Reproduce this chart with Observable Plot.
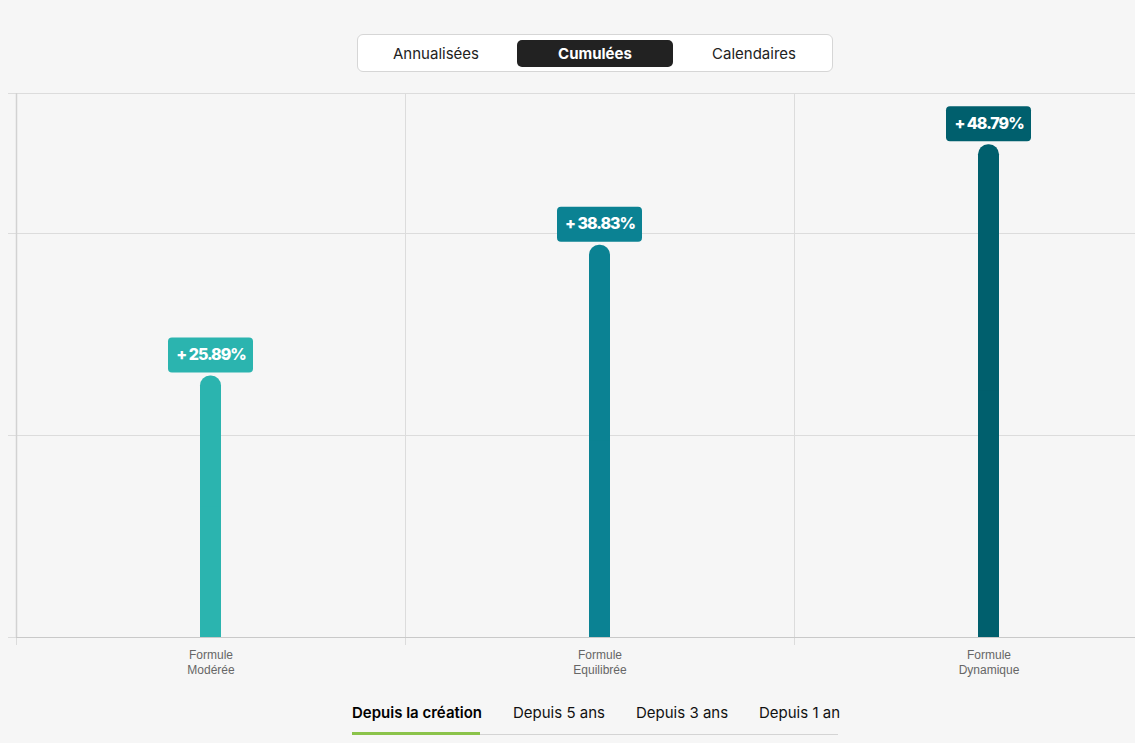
<!DOCTYPE html>
<html lang="fr">
<head>
<meta charset="utf-8">
<script src="https://cdn.jsdelivr.net/npm/d3@7"></script>
<script src="https://cdn.jsdelivr.net/npm/@observablehq/plot@0.6"></script>
<style>
  html, body { margin: 0; padding: 0; background: #f6f6f6; overflow: hidden; width: 1135px; height: 743px; font-family: Inter, "Noto Sans", sans-serif; }
  #top { position: relative; height: 80px; }
  .seg { position: absolute; left: 357px; top: 34px; width: 474px; height: 36px; border: 1px solid #d6d6d6; border-radius: 6px; background: #fff; display: flex; box-sizing: content-box; }
  .seg div { flex: 1; display: flex; align-items: center; justify-content: center; font-size: 15px; color: #222; position: relative; padding-top: 1px; }
  .seg div.active { background: #222; color: #fff; font-weight: 700; margin: 5px 3px 4px 3px; border-radius: 5px; padding-top: 0; }
  #chart svg { display: block; }
  #tabs { position: relative; height: 53px; }
  #tabs span { position: absolute; top: 13px; font-size: 15px; color: #111; white-space: nowrap; }
  #tabs span.active { font-weight: 600; color: #000; }
  #tabs .line { position: absolute; left: 352px; width: 486px; top: 44px; height: 1px; background: #d4d4d4; }
  #tabs .green { position: absolute; left: 352px; width: 128px; top: 42px; height: 3px; background: #8bc34a; }
</style>
</head>
<body>
<div id="top">
  <div class="seg">
    <div>Annualisées</div>
    <div class="active">Cumulées</div>
    <div>Calendaires</div>
  </div>
</div>
<div id="chart"></div>
<div id="tabs">
  <span class="active" style="left:352px">Depuis la création</span>
  <span style="left:513px">Depuis 5 ans</span>
  <span style="left:636px">Depuis 3 ans</span>
  <span style="left:759px">Depuis 1 an</span>
  <div class="line"></div>
  <div class="green"></div>
</div>
<script>
const categories = ["Formule\nModérée", "Formule\nEquilibrée", "Formule\nDynamique"];
const values = [25.89, 38.83, 48.79];
const labels = ["+ 25.89%", "+ 38.83%", "+ 48.79%"];
const colors = ["#2bb4af", "#0b8293", "#005f6d"];
const yMax = 53.86;
const yGrid = [0, 20, 40, yMax];

const data = categories.map((c, i) => ({cat: c, value: values[i], label: labels[i]}));

const chart = Plot.plot({
  width: 1135,
  height: 610,
  marginTop: 13,
  marginBottom: 53,
  marginLeft: 16,
  marginRight: 0,
  style: {background: "transparent", color: "#666", fontFamily: "'Liberation Sans', Arial, sans-serif", fontSize: "12px", overflow: "hidden"},
  x: {domain: categories, padding: 0, range: [16, 1183], axis: null},
  y: {domain: [0, yMax], axis: null},
  color: {domain: categories, range: colors},
  marks: [
    Plot.ruleY(yGrid, {stroke: "#dcdcdc", strokeWidth: 1, insetLeft: -8}),
    Plot.ruleX(categories, {x: d => d, dx: -194.5, y1: yMax, y2: 0, insetBottom: -8, stroke: "#dcdcdc"}),
    Plot.ruleY([0], {stroke: "#c9c9c9"}),
    Plot.ruleX([categories[0]], {x: d => d, dx: -194.5, y1: yMax, y2: 0, stroke: "#d2d2d2", strokeWidth: 1.5}),
    Plot.barY(data, {x: "cat", y: "value", fill: "cat", insetLeft: 184, insetRight: 184, rx: 10}),
    Plot.barY(data, {x: "cat", y: d => d.value / 2, fill: "cat", insetLeft: 184, insetRight: 184}),
    Plot.barY(data, {x: "cat", y1: "value", y2: "value", fill: "cat", insetLeft: 152, insetRight: 152, insetTop: -38, insetBottom: 3, rx: 4}),
    Plot.text(data, {x: "cat", y: "value", text: "label", dy: -21, fill: "white", fontSize: 16, fontWeight: 800, fontFamily: "Inter, sans-serif"}),
    Plot.axisX({tickSize: 0, tickPadding: 12, fontSize: 12, lineHeight: 1.17, fill: "#666", label: null})
  ]
});
document.getElementById("chart").appendChild(chart);
chart.querySelectorAll('g[aria-label="text"] text').forEach(t => t.setAttribute("letter-spacing", "-1"));
</script>
</body>
</html>
